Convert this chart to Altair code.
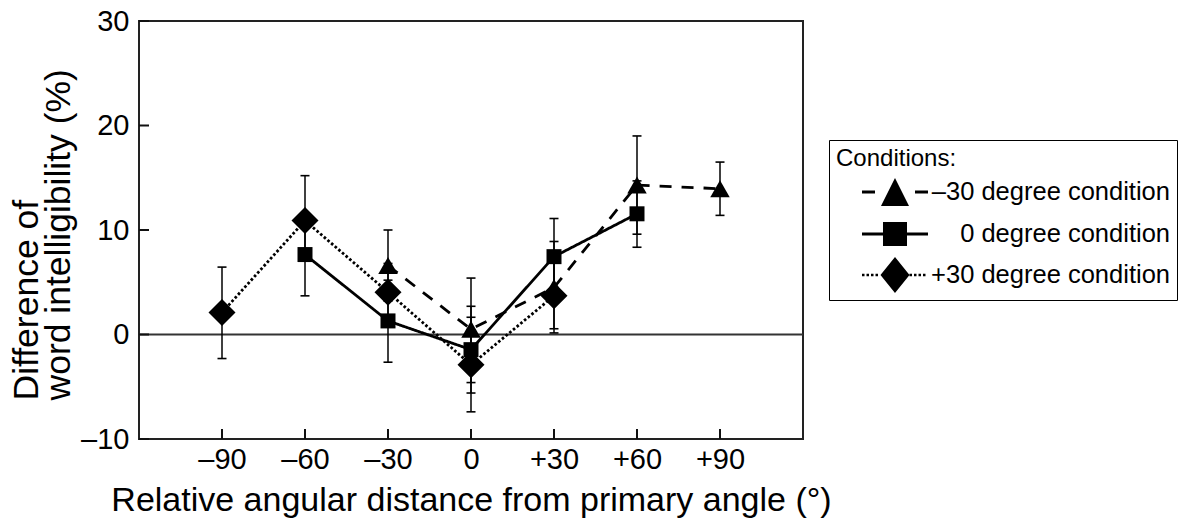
import altair as alt
import pandas as pd

# ---- data -------------------------------------------------------------
X_TICKS = [-90, -60, -30, 0, 30, 60, 90]
Y_TICKS = [-10, 0, 10, 20, 30]

CONDITIONS = ["–30 degree condition", "0 degree condition", "+30 degree condition"]

# –30 degree condition (triangles, dashed)
tri_x = [-30, 0, 30, 60, 90]
tri_y = [6.6, 0.5, 4.5, 14.3, 13.95]
tri_lo = [3.2, -4.6, 0.15, 9.6, 11.4]
tri_hi = [10.0, 5.4, 8.9, 19.0, 16.5]

# 0 degree condition (squares, solid)
sq_x = [-60, -30, 0, 30, 60]
sq_y = [7.65, 1.3, -1.45, 7.45, 11.55]
sq_lo = [3.7, -2.65, -5.6, 3.9, 8.35]
sq_hi = [11.6, 5.2, 2.7, 11.1, 14.7]

# +30 degree condition (diamonds, dotted)
dia_x = [-90, -60, -30, 0, 30]
dia_y = [2.1, 10.9, 4.05, -2.9, 3.7]
dia_lo = [-2.3, 7.6, 1.3, -7.4, 0.55]
dia_hi = [6.45, 15.2, 6.8, 1.65, 6.9]

series = [
    (CONDITIONS[0], tri_x, tri_y, tri_lo, tri_hi),
    (CONDITIONS[1], sq_x, sq_y, sq_lo, sq_hi),
    (CONDITIONS[2], dia_x, dia_y, dia_lo, dia_hi),
]
rows = []
for name, xs, ys, los, his in series:
    for x, y, lo, hi in zip(xs, ys, los, his):
        rows.append({"cond": name, "angle": x, "value": y, "lo": lo, "hi": hi})
df = pd.DataFrame(rows)

# ---- styles -----------------------------------------------------------
INK = "#111111"
FONT = "Liberation Sans"
W, H = 664, 418

STYLE = {
    CONDITIONS[0]: ("triangle-up", 380, [12, 10]),
    CONDITIONS[1]: ("square", 225, [1, 0]),
    CONDITIONS[2]: ("diamond", 729, [2.6, 2.2]),
}

# legend glyphs: line sample with the marker, as filled SVG paths
K = 18.0  # px per path unit (symbolSize = (2K)^2)


def _r(x0, x1, h):
    return f"M{x0 / K:.3f},{-h / K:.3f}H{x1 / K:.3f}V{h / K:.3f}H{x0 / K:.3f}Z"


def _dotted(x0, x1, h, dash=2.5, step=4.5):
    out, x = [], x0
    while x + dash <= x1 + 0.01:
        out.append(_r(x, x + dash, h))
        x += step
    return "".join(out)


tri_glyph = (
    _r(-33, -20, 1.5) + _r(20, 33, 1.5)
    + f"M0,{-14 / K:.3f}L{14 / K:.3f},{14 / K:.3f}H{-14 / K:.3f}Z"
)
sq_glyph = _r(-33, 33, 1.5) + _r(-12, 12, 12)
dia_glyph = (
    _dotted(-33, -14, 1.3) + _dotted(14.5, 33, 1.3)
    + f"M0,{-18 / K:.3f}L{14.5 / K:.3f},0L0,{18 / K:.3f}L{-14.5 / K:.3f},0Z"
)

xscale = alt.Scale(domain=[-120, 120], nice=False, zero=False)
yscale = alt.Scale(domain=[-10, 30], nice=False, zero=False)

x_enc = alt.X(
    "angle:Q",
    scale=xscale,
    axis=alt.Axis(
        values=X_TICKS,
        ticks=False,
        domain=False,
        grid=False,
        labelFontSize=29,
        labelPadding=6,
        labelColor="black",
        labelExpr="datum.value > 0 ? '+' + datum.value : (datum.value < 0 ? '–' + abs(datum.value) : '0')",
        title="Relative angular distance from primary angle (°)",
        titleFontSize=34,
        titleFontWeight="normal",
        titleColor="black",
        titleBaseline="alphabetic",
        titleY=71,
    ),
)
y_enc = alt.Y(
    "value:Q",
    scale=yscale,
    axis=alt.Axis(
        values=Y_TICKS,
        ticks=False,
        domain=False,
        grid=False,
        labelFontSize=29,
        labelPadding=10,
        labelColor="black",
        labelExpr="datum.value < 0 ? '–' + abs(datum.value) : datum.label",
        title=["Difference of", "word intelligibility (%)"],
        titleFontSize=35.5,
        titleFontWeight="normal",
        titleColor="black",
        titleAngle=270,
        titleAlign="left",
        titleBaseline="top",
        titleX=-130,
        titleY=379,
        titleLineHeight=32,
    ),
)

base = alt.Chart(df)

zero_line = alt.Chart(pd.DataFrame({"value": [0]})).mark_rule(
    color="#333333", strokeWidth=2
).encode(y=y_enc)

x_ticks = alt.Chart(pd.DataFrame({"angle": X_TICKS})).mark_rule(
    color=INK, strokeWidth=2
).encode(x=x_enc, y=alt.value(H), y2=alt.value(H - 10))

y_ticks = alt.Chart(pd.DataFrame({"value": Y_TICKS})).mark_rule(
    color=INK, strokeWidth=2
).encode(y=y_enc, x=alt.value(0), x2=alt.value(10))

line_layers, point_layers = [], []
for name in CONDITIONS:
    shape, size, dash = STYLE[name]
    sub = base.transform_filter(alt.datum.cond == name)
    line_layers.append(
        sub.mark_line(color="black", strokeWidth=2.8, strokeCap="butt", strokeDash=dash)
        .encode(x=x_enc, y=y_enc, order="angle:Q")
    )
    point_layers.append(
        sub.mark_point(shape=shape, size=size, filled=True, color="black", opacity=1)
        .encode(x="angle:Q", y="value:Q")
    )

err_bars = base.mark_rule(color="black", strokeWidth=1.5).encode(
    x="angle:Q", y="lo:Q", y2="hi:Q"
)
caps_lo = base.mark_tick(
    color="black", orient="horizontal", size=9, thickness=1.6, opacity=1
).encode(x="angle:Q", y="lo:Q")
caps_hi = base.mark_tick(
    color="black", orient="horizontal", size=9, thickness=1.6, opacity=1
).encode(x="angle:Q", y="hi:Q")

legend_layer = (
    alt.Chart(pd.DataFrame({"cond": CONDITIONS}))
    .transform_filter("false")
    .mark_point(filled=True, color="black", opacity=1)
    .encode(
        shape=alt.Shape(
            "cond:N",
            scale=alt.Scale(domain=CONDITIONS, range=[tri_glyph, sq_glyph, dia_glyph]),
            legend=alt.Legend(
                title="Conditions:",
                orient="none",
                legendX=690,
                legendY=119,
                padding=7,
                strokeColor="black",
                fillColor="white",
                titleFontSize=24,
                titleFontWeight="normal",
                titleColor="black",
                titlePadding=3,
                labelFontSize=25.5,
                labelColor="black",
                labelAlign="right",
                labelOffset=257,
                labelLimit=400,
                symbolSize=(2 * K) ** 2,
                symbolOffset=41,
                symbolFillColor="black",
                symbolOpacity=1,
                symbolStrokeWidth=0,
                rowPadding=9,
            ),
        ),
    )
)

chart = (
    alt.layer(zero_line, *line_layers, err_bars, caps_lo, caps_hi, *point_layers,
              x_ticks, y_ticks, legend_layer)
    .properties(
        width=W,
        height=H,
        autosize=alt.AutoSizeParams(type="none"),
        padding={"left": 139, "top": 21, "right": 381, "bottom": 80},
        background="white",
    )
    .configure(font=FONT)
    .configure_view(stroke="#222222", strokeWidth=2)
)

chart.save("out.html", embed_options={"renderer": "svg", "actions": False})
